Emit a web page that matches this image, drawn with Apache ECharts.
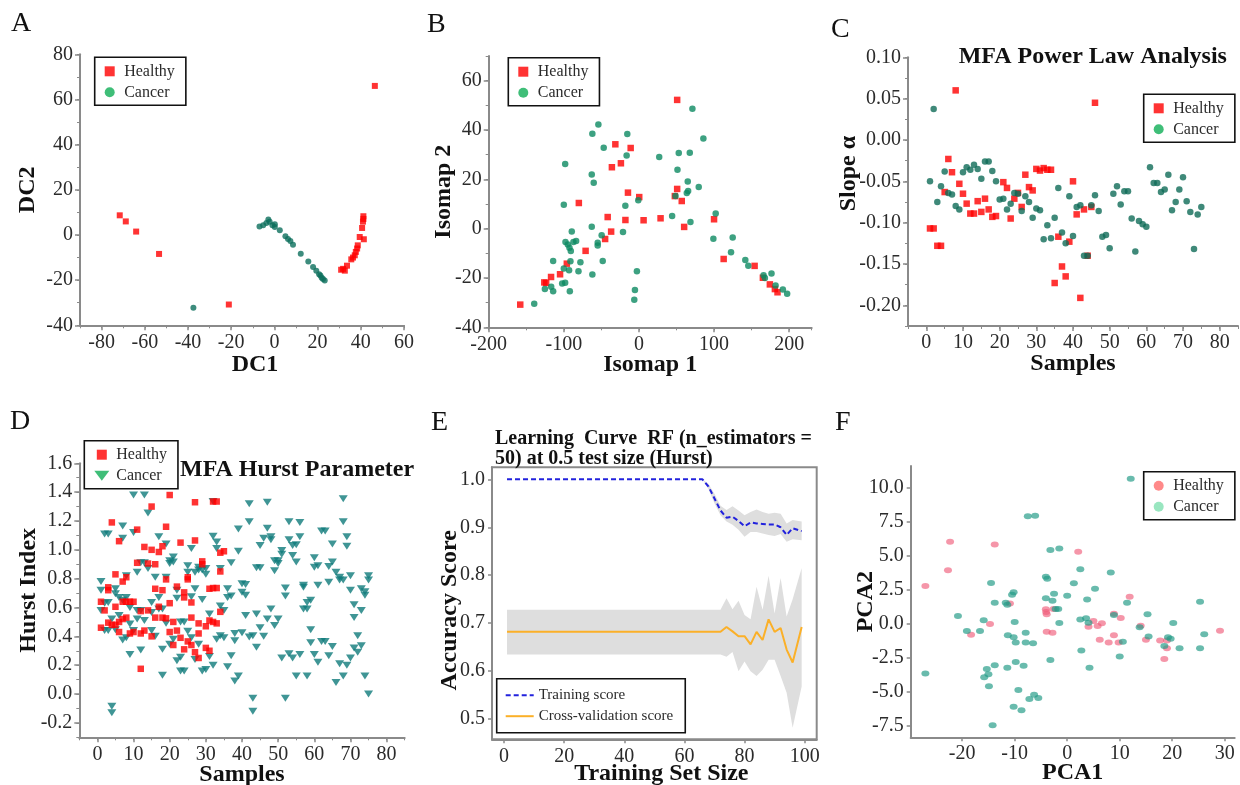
<!DOCTYPE html>
<html><head><meta charset="utf-8">
<style>html,body{margin:0;padding:0;background:#fff}#c{width:1240px;height:785px}</style>
<script src="https://cdn.jsdelivr.net/npm/echarts@6/dist/echarts.min.js"></script>
</head><body><div id="c"></div>
<script>
const aHealthy=[[46.5,66],[-71.6,8.7],[-68.8,6],[-64,1.5],[-53.4,-8.4],[-21.1,-30.8],[41.2,8.3],[41.2,7.1],[41,5.9],[40.6,3.1],[39.5,-0.9],[41.4,-1.9],[38.6,-4.6],[38.3,-6],[37.7,-7.5],[37.2,-9],[36.4,-10],[35.6,-10.8],[33.6,-13.6],[30.9,-15.4],[32.6,-15.8],[31.8,-15]];
const aCancer=[[-37.5,-32.2],[-6.9,3.7],[-5.2,4.3],[-3.7,5.3],[-2.8,6.9],[-2.2,5.8],[-0.9,4.3],[0.2,4.7],[0.2,3.5],[2.5,2.1],[5.1,-0.6],[6.3,-1.8],[7.4,-2.7],[8.6,-4.3],[12.2,-8.3],[15.7,-11.8],[17.9,-14.2],[19.4,-15.9],[20.7,-17.4],[21.3,-18],[21.9,-18.9],[22.5,-19.5],[23.3,-20.2]];
const bHealthy=[[-158,-30.8],[-126,-21.8],[-123.5,-22],[-117,-19.6],[-105,-18.5],[-96,-14.2],[-80,10.4],[-71,-9],[-45,-4.2],[-41.6,4.7],[-37,-1.2],[-36,24.9],[-31.4,34.2],[-24,26.5],[-18,3.5],[-14.6,14.6],[-11,32.7],[0.4,12.8],[6.2,3.4],[28.8,4.2],[47.8,13.2],[50.9,52.2],[50.9,16.1],[57,11.2],[60.2,0.7],[100,3.8],[112.8,-12.3],[154,-15.1],[165,-19.9],[174.3,-22.6],[181,-24.5],[184.5,-25.8]];
const bCancer=[[-139.4,-30.5],[-125.2,-24.5],[-116.8,-23.6],[-114.2,-25.4],[-114.2,-13.1],[-102.2,-22.2],[-98.2,-21.9],[-92,-25.4],[-100,-16.2],[-93,-16.9],[-100,9.7],[-98.2,26.2],[-89.4,-1.2],[-97.8,-5.4],[-94.7,-6.4],[-92.5,-7.7],[-90.7,-9.1],[-87.2,-5.4],[-83.6,-5],[-91.2,-13.2],[-80.5,-17.3],[-77.9,-13.6],[-62.8,0.8],[-62,-18.6],[-62.8,22],[-60.2,18.6],[-62,38.5],[-54,42.2],[-46.9,32.8],[-49.6,-2.7],[-54.9,-5.7],[-54.9,-6.8],[-48.2,-13.1],[-21.2,-1.4],[-18.1,9.3],[-16.4,29.7],[-15.5,38.4],[-2.7,-17.3],[-5.3,-24.9],[-6.2,-28.8],[-0.9,11.5],[27,29],[44.2,5.1],[48.7,13.2],[51.3,23.9],[53,30.7],[65,19.1],[63.7,14.5],[65.5,15.3],[67.7,30.8],[68.6,2.7],[71.2,48.6],[79.6,16.9],[85.8,36.6],[102.2,6.1],[99.1,-4.1],[124.8,-3.6],[122.6,-9.6],[141.6,-12.7],[145.6,-15],[165.9,-18.9],[167.7,-20],[176.5,-18.2],[181.9,-23.1],[191.6,-24.7],[197.3,-26.4]];
const cHealthy=[[1,-.107],[2,-.107],[3,-.128],[4,-.128],[5,-.063],[6,-.023],[7,-.039],[8,.06],[9,-.053],[10,-.065],[11,-.077],[12,-.089],[13,-.089],[14,-.074],[15,-.087],[16,-.071],[17,-.084],[18,-.093],[19,-.092],[21,-.051],[22,-.058],[23,-.095],[24,-.071],[25,-.064],[26,-.081],[27,-.042],[28,-.057],[29,-.061],[30,-.035],[31,-.037],[32,-.034],[33,-.036],[34,-.036],[35,-.173],[36,-.117],[37,-.153],[38,-.165],[39,-.123],[40,-.05],[41,-.09],[42,-.191],[43,-.084],[44,-.14],[45,-.081],[46,.045]];
const cCancer=[-.05,.0375,-.075,-.056,-.038,-.064,-.066,-.08,-.084,-.039,-.033,-.036,-.03,-.035,-.047,-.026,-.026,-.0375,-.05,-.072,-.071,-.084,-.077,-.064,-.065,-.086,-.068,-.075,-.094,-.083,-.085,-.12,-.103,-.119,-.094,-.058,-.112,-.125,-.068,-.116,-.081,-.079,-.14,-.14,-.079,-.067,-.086,-.117,-.115,-.131,-.065,-.056,-.078,-.062,-.062,-.095,-.135,-.098,-.102,-.105,-.033,-.052,-.052,-.063,-.06,-.042,-.085,-.075,-.06,-.045,-.074,-.087,-.132,-.09,-.081];
const dHealthy=[[4,1.19],[6,1.06],[11,1.14],[15,1.3],[20,1.38],[27,1.33],[32,1.335],[33,1.335],[19,1.16],[13,1.02],[15,1],[17,.985],[18,1.025],[23,1.05],[27,1.065],[34,.98],[35,.99],[29,.92],[29,.9],[11,.91],[14,.905],[16,.9],[5,.83],[19,.795],[25,.81],[25,.795],[34,.85],[7,.78],[8,.81],[3,.74],[3,.72],[16,.73],[18,.72],[22,.745],[24,.705],[24,.67],[31,.73],[32,.735],[33,.735],[20,.63],[26,.635],[1,.64],[2,.58],[5,.605],[7,.64],[8,.64],[9,.64],[10,.64],[17,.605],[14,.58],[12,.575],[34,.57],[1,.46],[3,.495],[4,.48],[5,.48],[6,.5],[7,.52],[8,.53],[6,.43],[9,.42],[10,.43],[12,.42],[13,.44],[15,.4],[16,.53],[18,.53],[19,.525],[21,.5],[20,.43],[22,.44],[21,.34],[23,.39],[24,.31],[25,.365],[26,.34],[26,.53],[28,.49],[28,.42],[30,.47],[31,.51],[32,.5],[33,.49],[27,.29],[28,.25],[30,.32],[31,.3],[12,.175]];
const dCancer=[[10,1.38],[13,1.38],[14,1.255],[32,1.335],[42,1.32],[47,1.33],[68,1.355],[42,1.195],[53,1.195],[56,1.19],[68,1.195],[7,1.165],[2,1.11],[3,1.11],[10,1.12],[7,1.08],[17,1.09],[32,1.095],[33,1.055],[33,1.01],[39,1.145],[47,1.15],[46,1.08],[48,1.09],[48,1.07],[45,1.03],[53,1.07],[56,1.09],[54,1.03],[55,1.035],[69,1.09],[69,1.025],[39,.99],[51,.995],[51,.97],[54,.96],[55,.915],[49,.925],[50,.925],[50,.905],[60,.945],[62,1.13],[63,1.13],[65,1.04],[19,1.04],[26,1.01],[12,.91],[13,.91],[11,.845],[14,.87],[16,.81],[19,.81],[20,.905],[21,.95],[20,.925],[21,.915],[25,.89],[25,.845],[28,.86],[27,.845],[29,.86],[30,.87],[30,.83],[28,.88],[34,.87],[37,.91],[44,.875],[45,.875],[49,.855],[60,.88],[61,.89],[64,.885],[65,.915],[66,.845],[1,.78],[1,.72],[1,.58],[2,.44],[3,.44],[3,.635],[2,.63],[5,.73],[5,.695],[6,.67],[8,.82],[8,.67],[7,.65],[9,.6],[6,.545],[4,.52],[5,.445],[8,.39],[7,.375],[9,.485],[9,.275],[10,.44],[11,.52],[11,.58],[12,.58],[13,.51],[12,.305],[15,.635],[15,.565],[16,.4],[15,.44],[17,.67],[17,.59],[18,.59],[18,.31],[18,.13],[19,.49],[20,.345],[21,.38],[22,.72],[22,.665],[22,.23],[23,.5],[24,.5],[23,.255],[23,.16],[24,.16],[25,.435],[26,.675],[26,.39],[27,.73],[27,.24],[28,.345],[29,.655],[29,.16],[30,.17],[31,.555],[31,.26],[32,.2],[33,.38],[34,.61],[35,.58],[34,.405],[35,.39],[36,.67],[36,.73],[37,.68],[36,.19],[37,.265],[38,.09],[39,.125],[38,.42],[38,.37],[40,.425],[40,.765],[41,.76],[40,.705],[41,.685],[41,.545],[42,.395],[43,.405],[44,.555],[44,.325],[45,.46],[46,.4],[47,.52],[48,.59],[49,.475],[50,.52],[51,.25],[52,.735],[52,.68],[52,-.03],[53,.28],[54,.25],[55,.125],[56,.275],[57,.755],[57,.74],[57,.59],[58,.59],[58,.635],[59,.65],[59,.445],[59,.355],[58,.125],[60,.275],[61,.755],[61,.22],[62,.365],[63,.365],[64,.775],[64,.265],[65,.33],[66,.08],[67,.79],[67,.81],[67,.21],[68,.79],[68,.125],[69,.2],[70,.82],[70,.72],[70,.25],[71,.62],[71,.53],[71,.32],[72,.405],[72,.29],[73,.73],[73,.58],[73,.335],[74,.71],[74,.685],[74,.125],[75,.82],[75,.79],[75,0],[43,-.03],[43,-.12],[4,-.085],[4,-.13]];
const trainSizes=[1,12,24,36,48,60,66,68,70,72,74,76,78,80,82,84,86,88,90,92,94,96,99];
const trainScore=[1,1,1,1,1,1,1,.985,.96,.935,.92,.922,.913,.902,.91,.908,.907,.906,.906,.9,.884,.898,.892];
const trainUpper=[1,1,1,1,1,1,1,.99,.97,.945,.936,.944,.935,.925,.932,.937,.932,.928,.93,.928,.908,.915,.912];
const trainLower=[1,1,1,1,1,1,1,.98,.95,.925,.912,.905,.895,.88,.89,.89,.887,.884,.882,.886,.87,.875,.873];
const cvScore=[.682,.682,.682,.682,.682,.682,.682,.682,.682,.682,.692,.683,.673,.673,.656,.682,.665,.708,.682,.69,.645,.618,.692];
const cvUpper=[.728,.728,.728,.728,.728,.728,.728,.728,.728,.728,.752,.729,.747,.717,.708,.776,.728,.799,.72,.794,.714,.75,.815];
const cvLower=[.635,.635,.635,.635,.635,.635,.635,.635,.635,.635,.63,.64,.6,.62,.6,.59,.603,.624,.624,.59,.555,.482,.568];
const fHealthy=[[-27,2.75],[-22.7,3.9],[-22.3,6],[-13.8,5.8],[-14.7,-.05],[-18.3,-.83],[-10.9,1.45],[2.1,5.27],[11.9,1.96],[-4.06,1.03],[-4,.83],[-3.9,.66],[-3.9,-.61],[-2.8,-.69],[-2.6,1.05],[4.06,-.25],[5,.17],[5.8,-.2],[6.6,0],[6.2,-1.2],[7.9,-1.4],[8.9,-.88],[9.8,-1.4],[10.2,.39],[8.9,.71],[14,-.17],[15,-1.2],[17.7,-1.27],[19,-1.27],[19,-1.84],[18.5,-2.62],[29.1,-.54]];
const fCancer=[[12.1,10.64],[-7.5,7.87],[-6.1,7.92],[-3.2,5.39],[-1.5,5.51],[2.5,3.97],[8.3,3.73],[-4.06,3.43],[-3.8,3.28],[-14.5,2.97],[1.27,2.94],[5.3,2.55],[-10.2,2.28],[-10.5,2.11],[-2.5,2.18],[0,2.03],[-4.06,1.84],[-2.8,1.67],[3.8,1.76],[-13.8,1.52],[-11.7,1.52],[-11.4,1.37],[11.4,1.52],[25.3,1.59],[-2.2,1.05],[-1.7,1.05],[-20.8,.54],[8.9,.61],[15.3,.66],[-15.9,.22],[-10,.1],[-1.5,.02],[2.5,.29],[3.6,.37],[4.06,.05],[20.2,.02],[-19.1,-.56],[-16.6,-.56],[-7.9,-.69],[-11.3,-.88],[-10.2,-1.03],[-9.8,-1.4],[-7.9,-1.4],[-6.5,-1.47],[13.8,-.29],[15.5,-.96],[10.6,-1.35],[19.2,-1.03],[19.7,-1.13],[18.5,-1.67],[26.1,-.81],[21.4,-1.84],[25.3,-1.84],[2.7,-1.99],[10,-2.43],[-3.2,-2.7],[-9.8,-2.84],[-8.3,-3.11],[-13.8,-3.09],[-11.4,-3.26],[4.25,-3.26],[-15.3,-3.36],[-15,-3.75],[-15.8,-3.97],[-27,-3.68],[-14.9,-4.63],[-9.3,-4.9],[-6.3,-5.25],[-7.2,-5.56],[-5.5,-5.49],[-10.2,-6.13],[-8.7,-6.4],[-14.2,-7.5]];

const SERIF='"Liberation Serif","Times New Roman",serif';
const GRAY='#8a8a8a', TXT='#2b2b2b';
const SQ='path://M0 0H10V10H0Z', CI='path://M5 0A5 5 0 1 1 5 10A5 5 0 1 1 5 0Z', TR='path://M0 0H12L6 8Z';
const grids=[],xAxes=[],yAxes=[],series=[],legends=[],titles=[];
function range(a,b,s){const r=[];for(let i=Math.round(a/s);i<=Math.round(b/s);i++)r.push(+(i*s).toFixed(6));return r;}
function nm(size){return {fontFamily:SERIF,fontWeight:'bold',fontSize:size||24,color:'#111'};}
function axis(o,isX){
  return {type:'value',gridIndex:o.gi,min:o.min,max:o.max,splitLine:{show:false},scale:true,
    position:isX?'bottom':'left',
    name:o.name,nameLocation:'middle',nameGap:o.gap,nameRotate:isX?0:90,nameMoveOverlap:false,
    nameTextStyle:Object.assign(nm(o.nameSize),{padding:o.pad||0}),
    axisLine:{show:true,onZero:false,lineStyle:{color:GRAY,width:2}},
    axisTick:{show:true,length:o.tl||5,customValues:o.ticks,lineStyle:{color:GRAY,width:1.5}},
    axisLabel:{show:true,margin:o.m||7,customValues:o.ticks,fontFamily:SERIF,fontSize:20,color:TXT,
      formatter:v=>o.dec==null?String(v):Number(v).toFixed(o.dec)}
  };
}
function minor(o,isX){
  return {type:'value',gridIndex:o.gi,min:o.min,max:o.max,interval:o.minor,splitLine:{show:false},
    position:isX?'bottom':'left',
    axisLine:{show:false,onZero:false},axisTick:{show:true,length:3,lineStyle:{color:GRAY,width:1}},axisLabel:{show:false}};
}
function panel(p){
  const gi=grids.length;
  grids.push(Object.assign({containLabel:false,outerBoundsMode:'none',show:!!p.frame,borderColor:GRAY,borderWidth:p.frame?2:0},p.grid));
  const xi=xAxes.length, yi=yAxes.length;
  xAxes.push(axis(Object.assign({gi},p.x),true));
  yAxes.push(axis(Object.assign({gi},p.y),false));
  if(p.x.minor){xAxes.push(minor(Object.assign({gi},p.x),true));}
  if(p.y.minor){yAxes.push(minor(Object.assign({gi},p.y),false));}
  return {xi,yi};
}
function scatter(ax,name,data,symbol,size,color,extra){
  series.push(Object.assign({type:'scatter',name,xAxisIndex:ax.xi,yAxisIndex:ax.yi,data,symbol,symbolSize:size,
    itemStyle:{color},silent:true,animation:false},extra||{}));
}
function legend(left,top,cancerIcon,cancerColor,healthyIcon,healthyColor){
  legends.push({left,top,orient:'vertical',padding:[6,11,5,10],itemGap:5,itemWidth:19,itemHeight:10,
    backgroundColor:'#fff',borderColor:'#111',borderWidth:1.6,borderRadius:0,selectedMode:false,
    textStyle:{fontFamily:SERIF,fontSize:16,color:TXT,lineHeight:16},
    data:[{name:'Healthy',icon:healthyIcon,itemStyle:{color:healthyColor}},{name:'Cancer',icon:cancerIcon,itemStyle:{color:cancerColor}}]});
}
// A
let ax=panel({grid:{left:80,top:54.3,width:324,height:271},
  x:{min:-90,max:60,minor:10,ticks:range(-80,60,20),name:'DC1',gap:27,pad:[0,0,0,26]},
  y:{min:-40,max:80,minor:10,ticks:range(-40,80,20),name:'DC2',gap:40}});
scatter(ax,'Healthy',aHealthy,'rect',6,'#ff0000');
scatter(ax,'Cancer',aCancer,'circle',6,'#0d6f5c');
legend(94.7,57.3,CI,'#0fae56',SQ,'#ff0000');
// B
ax=panel({grid:{left:488.7,top:56,width:323,height:271.3},
  x:{min:-200,max:230,minor:50,ticks:range(-200,200,100),name:'Isomap 1',gap:25},
  y:{min:-40,max:70,minor:10,ticks:range(-40,60,20),name:'Isomap 2',gap:33}});
scatter(ax,'Healthy',bHealthy,'rect',6.5,'#ff0000');
scatter(ax,'Cancer',bCancer,'circle',6.5,'#0c8a62');
legend(508.3,57.7,CI,'#0fae56',SQ,'#ff0000');
// C
ax=panel({grid:{left:908,top:57.3,width:330,height:268.7},
  x:{min:-5,max:85,minor:5,ticks:range(0,80,10),name:'Samples',gap:26},
  y:{min:-.225,max:.1,minor:.025,ticks:range(-.2,.1,.05),dec:2,name:'Slope α',gap:47,pad:[0,0,0,36]}});
scatter(ax,'Healthy',cHealthy,'rect',6.5,'#ff0000');
scatter(ax,'Cancer',cCancer.map((v,i)=>[i+1,v]),'circle',6.5,'#0f6b58');
legend(1143.7,94.3,CI,'#0fae56',SQ,'#ff0000');
// D
ax=panel({grid:{left:79.3,top:463.3,width:325.4,height:274},
  x:{min:-5,max:85,minor:5,ticks:range(0,80,10),name:'Samples',gap:25,m:7},
  y:{min:-.3,max:1.6,minor:.1,ticks:range(-.2,1.6,.2),dec:1,name:'Hurst Index',gap:39,pad:[0,0,0,20]}});
scatter(ax,'Healthy',dHealthy,'rect',6.5,'#ff0000',{z:3});
scatter(ax,'Cancer',dCancer,'triangle',[9,7],'#0f7b7b',{symbolRotate:180,z:2});
legend(84.3,440.7,TR,'#0fae56',SQ,'#ff0000');
// E
ax=panel({frame:true,grid:{left:492,top:467.3,width:324.7,height:272},
  x:{min:-4,max:104,ticks:range(0,100,20),name:'Training Set Size',gap:22,pad:[0,0,0,14],m:7,tl:4},
  y:{min:.458,max:1.025,ticks:range(.5,1,.1),dec:1,name:'Accuracy Score',gap:30,pad:[0,14,0,0],tl:4}});
function band(name,upper,lower){
  series.push({type:'custom',name,xAxisIndex:ax.xi,yAxisIndex:ax.yi,silent:true,animation:false,z:1,
    data:trainSizes.map((x,i)=>[x,upper[i],lower[i]]),encode:{x:0,y:[1,2]},
    renderItem(params,api){
      if(params.dataIndex!==0)return null;
      const pts=[];
      trainSizes.forEach((x,i)=>pts.push(api.coord([x,upper[i]])));
      for(let i=trainSizes.length-1;i>=0;i--)pts.push(api.coord([trainSizes[i],lower[i]]));
      return {type:'polygon',shape:{points:pts},style:{fill:'#dedede'}};
    }});
}
band('Training band',trainUpper,trainLower);
band('Cross-validation band',cvUpper,cvLower);
series.push({type:'line',name:'Training score',xAxisIndex:ax.xi,yAxisIndex:ax.yi,showSymbol:false,symbol:'none',animation:false,z:3,
  data:trainSizes.map((x,i)=>[x,trainScore[i]]),lineStyle:{color:'#2222dd',width:2,type:[5,3]},itemStyle:{color:'#2222dd'}});
series.push({type:'line',name:'Cross-validation score',xAxisIndex:ax.xi,yAxisIndex:ax.yi,showSymbol:false,symbol:'none',animation:false,z:3,
  data:trainSizes.map((x,i)=>[x,cvScore[i]]),lineStyle:{color:'#fbb028',width:2},itemStyle:{color:'#fbb028'}});
legends.push({left:496.7,top:678.7,orient:'vertical',padding:[9,12,9,8],itemGap:6,itemWidth:28,itemHeight:14,
  backgroundColor:'#fff',borderColor:'#111',borderWidth:1.6,borderRadius:0,selectedMode:false,
  textStyle:{fontFamily:SERIF,fontSize:15,color:TXT,lineHeight:15},
  data:[{name:'Training score',itemStyle:{color:'transparent',opacity:0}},{name:'Cross-validation score',itemStyle:{color:'transparent',opacity:0}}]});
// F
ax=panel({grid:{left:910.7,top:466,width:324,height:271.3},
  x:{min:-29.8,max:31.9,ticks:range(-20,30,10),name:'PCA1',gap:23,tl:4,m:6},
  y:{min:-8.38,max:11.57,ticks:range(-7.5,10,2.5),dec:1,name:'PCA2',gap:33,tl:4}});
scatter(ax,'Healthy',fHealthy,'circle',[8,6],'rgba(240,90,120,.8)');
scatter(ax,'Cancer',fCancer,'circle',[8,6],'rgba(35,155,135,.85)');
legend(1143.7,471.7,CI,'#80e0b0',CI,'#ff6b6b');

// titles and panel letters
[['A',11,10],['B',427,11],['C',831,16],['D',10,408],['E',431,409],['F',835,409]].forEach(t=>titles.push({text:t[0],left:t[1],top:t[2],padding:0,textStyle:{fontFamily:SERIF,fontSize:28,fontWeight:'normal',color:'#111'}}));
titles.push({text:'MFA Power Law Analysis',left:958.7,top:45,padding:0,textStyle:{fontFamily:SERIF,fontSize:24,fontWeight:'bold',color:'#111'}});
titles.push({text:'MFA Hurst Parameter',left:180,top:458,padding:0,textStyle:{fontFamily:SERIF,fontSize:24,fontWeight:'bold',color:'#111'}});
titles.push({text:'Learning  Curve  RF (n_estimators =\n50) at 0.5 test size (Hurst)',left:495,top:429,padding:0,textStyle:{fontFamily:SERIF,fontSize:20,lineHeight:20,fontWeight:'bold',color:'#111'}});

const chart=echarts.init(document.getElementById('c'),null,{renderer:'canvas'});
chart.setOption({animation:false,backgroundColor:'#fff',title:titles,grid:grids,xAxis:xAxes,yAxis:yAxes,series,legend:legends});
</script></body></html>
